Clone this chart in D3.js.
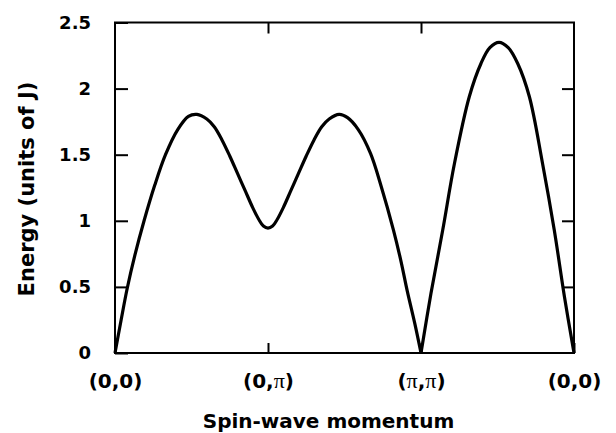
<!DOCTYPE html>
<html>
<head>
<meta charset="utf-8">
<script src="https://cdn.jsdelivr.net/npm/d3@7"></script>
<style>
  body { margin: 0; background: #fff; }
  svg { display: block; }
  text { font-family: "DejaVu Sans", sans-serif; font-weight: bold; fill: #000; }
</style>
</head>
<body>
<svg id="chart" width="616" height="433"></svg>
<script>
// momentum path (0,0) -> (0,pi) -> (pi,pi) -> (0,0), in path units 0..3
const pathLabels = ["(0,0)", "(0,π)", "(π,π)", "(0,0)"];
const energyTicks = [0, 0.5, 1, 1.5, 2, 2.5];

// branch 1: (0,0) -> (0,pi) -> (pi,pi)
const qA = [0, 0.04, 0.08, 0.13, 0.19, 0.26, 0.33, 0.41, 0.48, 0.535, 0.6, 0.65, 0.7, 0.75, 0.8, 0.85, 0.9, 0.94, 0.97, 1.0,
            1.03, 1.06, 1.1, 1.15, 1.2, 1.25, 1.3, 1.35, 1.4, 1.465, 1.52, 1.59, 1.67, 1.74, 1.82, 1.87, 1.91, 1.96, 2.0];
const eA = [0, 0.25, 0.49, 0.74, 1.0, 1.27, 1.5, 1.69, 1.79, 1.805, 1.77, 1.71, 1.61, 1.49, 1.36, 1.23, 1.10, 1.01, 0.96, 0.945,
            0.96, 1.01, 1.10, 1.23, 1.36, 1.49, 1.61, 1.71, 1.77, 1.805, 1.78, 1.69, 1.51, 1.26, 0.93, 0.69, 0.47, 0.22, 0];

// branch 2: (pi,pi) -> (0,0)
const qB = [2.0, 2.065, 2.142, 2.218, 2.316, 2.392, 2.45, 2.51, 2.57, 2.632, 2.708, 2.795, 2.871, 2.937, 3.0];
const eB = [0, 0.45, 0.93, 1.43, 1.94, 2.19, 2.31, 2.35, 2.31, 2.19, 1.94, 1.43, 0.93, 0.43, 0];

const svg = d3.select("#chart");
const mLeft = 115, mRight = 574, mTop = 22.5, mBottom = 353;

const x = d3.scaleLinear().domain([0, 3]).range([mLeft, mRight]);
const y = d3.scaleLinear().domain([0, 2.5]).range([mBottom, mTop]);

// left axis with inward ticks
const yAxisL = svg.append("g")
    .attr("transform", `translate(${mLeft},0)`)
    .call(d3.axisLeft(y).tickValues(energyTicks).tickSizeInner(-13).tickSizeOuter(0).tickPadding(24)
        .tickFormat(d => d));
yAxisL.select(".domain").remove();
yAxisL.selectAll("text").style("font-size", "18px").style("font-family", "DejaVu Sans");

// right axis, ticks only
const yAxisR = svg.append("g")
    .attr("transform", `translate(${mRight},0)`)
    .call(d3.axisRight(y).tickValues(energyTicks.slice(1, -1)).tickSizeInner(-12).tickSizeOuter(0).tickFormat(""));
yAxisR.select(".domain").remove();

// bottom axis
const xAxisB = svg.append("g")
    .attr("transform", `translate(0,${mBottom})`)
    .call(d3.axisBottom(x).tickValues([0, 1, 2, 3]).tickSizeInner(-10).tickSizeOuter(0).tickFormat(""));
xAxisB.select(".domain").remove();

xAxisB.selectAll(".tick").append("text")
    .attr("y", 35)
    .attr("text-anchor", "middle")
    .style("font-size", "20px")
    .each(function(d) {
        const parts = pathLabels[d].split(/(π)/);
        const t = d3.select(this);
        parts.forEach(p => {
            if (!p) return;
            const s = t.append("tspan").text(p);
            if (p === "π") s.style("font-family", "Liberation Serif").style("font-weight", "normal").style("font-size", "22px");
        });
    });

// top axis, ticks only
const xAxisT = svg.append("g")
    .attr("transform", `translate(0,${mTop})`)
    .call(d3.axisTop(x).tickValues([1, 2]).tickSizeInner(-11).tickSizeOuter(0).tickFormat(""));
xAxisT.select(".domain").remove();

svg.selectAll(".tick line").attr("stroke", "#000").attr("stroke-width", 2);

// frame
svg.append("rect")
    .attr("x", mLeft).attr("y", mTop)
    .attr("width", mRight - mLeft).attr("height", mBottom - mTop)
    .attr("fill", "none").attr("stroke", "#000").attr("stroke-width", 2);

// dispersion branches
const line = d3.line()
    .x(d => x(d[0]))
    .y(d => y(d[1]))
    .curve(d3.curveCatmullRom.alpha(0.5));

[[qA, eA], [qB, eB]].forEach(([q, e]) => {
    svg.append("path")
        .datum(q.map((v, i) => [v, e[i]]))
        .attr("d", line)
        .attr("fill", "none")
        .attr("stroke", "#000")
        .attr("stroke-width", 3.2)
        .attr("stroke-linejoin", "round");
});

// axis titles
svg.append("text")
    .attr("x", (mLeft + mRight) / 2 - 16)
    .attr("y", 428)
    .attr("text-anchor", "middle")
    .style("font-size", "20px")
    .text("Spin-wave momentum");

svg.append("text")
    .attr("transform", "translate(34,189) rotate(-90)")
    .attr("text-anchor", "middle")
    .style("font-size", "21px")
    .text("Energy (units of J)");
</script>
</body>
</html>
